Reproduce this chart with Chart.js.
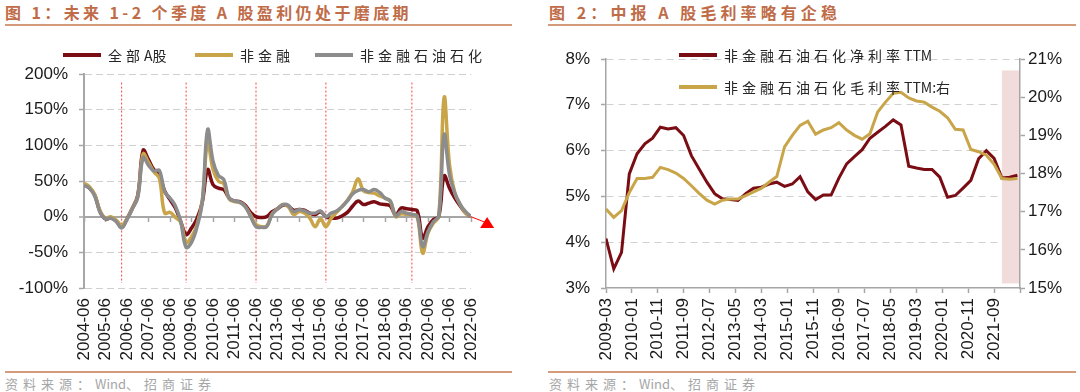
<!DOCTYPE html>
<html>
<head>
<meta charset="utf-8">
<script src="https://cdn.jsdelivr.net/npm/chart.js@4.4.0/dist/chart.umd.min.js"></script>
<style>
  body { margin: 0; background: #fff; }
  #page { position: relative; width: 1080px; height: 392px; overflow: hidden; font-family: "Noto Sans CJK SC", sans-serif; }
  .title { position: absolute; top: 2px; font-size: 16px; line-height: 20px; font-weight: bold; color: #c06c48; white-space: nowrap; }
  .rule { position: absolute; height: 2px; background: #d59a7c; }
  .box { position: absolute; top: 0; width: 540px; height: 372px; }
  .item { position: absolute; display: flex; align-items: center; height: 20px; font-size: 14px; color: #262626; letter-spacing: 4px; white-space: nowrap; }
  .swatch { display: inline-block; width: 38px; height: 4px; margin-right: 7px; }
  .src { position: absolute; top: 374px; font-size: 13px; line-height: 19px; color: #a6a6a6; letter-spacing: 5px; white-space: nowrap; }
  .lat { letter-spacing: 0; }
</style>
</head>
<body>
<div id="page">
  <div class="title" id="t1" style="left:5px">图 1：未来 1-2 个季度 A 股盈利仍处于磨底期</div>
  <div class="rule" style="left:5px; top:24px; width:507px"></div>
  <div class="title" id="t2" style="left:549px">图 2：中报 A 股毛利率略有企稳</div>
  <div class="rule" style="left:548px; top:24px; width:528px"></div>

  <div class="box" style="left:0"><canvas id="c1"></canvas></div>
  <div class="box" style="left:540px"><canvas id="c2"></canvas></div>

  <div class="rule" style="left:5px; top:371px; width:507px"></div>
  <div class="rule" style="left:548px; top:371px; width:528px"></div>
  <div class="src" style="left:5px">资料来源：Wind、招商证券</div>
  <div class="src" style="left:549px">资料来源：Wind、招商证券</div>
</div>

<script>
// --- 图1: quarterly YoY net profit growth (%) ---
const quarters = [
  '2004-06','2004-09','2004-12',
  '2005-03','2005-06','2005-09','2005-12','2006-03','2006-06','2006-09','2006-12',
  '2007-03','2007-06','2007-09','2007-12','2008-03','2008-06','2008-09','2008-12',
  '2009-03','2009-06','2009-09','2009-12','2010-03','2010-06','2010-09','2010-12',
  '2011-03','2011-06','2011-09','2011-12','2012-03','2012-06','2012-09','2012-12',
  '2013-03','2013-06','2013-09','2013-12','2014-03','2014-06','2014-09','2014-12',
  '2015-03','2015-06','2015-09','2015-12','2016-03','2016-06','2016-09','2016-12',
  '2017-03','2017-06','2017-09','2017-12','2018-03','2018-06','2018-09','2018-12',
  '2019-03','2019-06','2019-09','2019-12','2020-03','2020-06','2020-09','2020-12',
  '2021-03','2021-06','2021-09','2021-12','2022-03','2022-06'
];
const allA = [
  45, 40, 30, 7, -3, -2, -6, -14, -3, 12,
  30, 93, 80, 66, 60, 36, 24, 12, -7, -25,
  -16, -3, 20, 66, 45, 40, 38, 26, 22, 21,
  16, 6, 0, -1, 0, 7, 11, 16, 15, 9,
  10, 9, 5, 3, 7, 0, -2, -2, 1, 6,
  15, 22, 17, 19, 21, 18, 17, 15, 2, 12,
  11, 10, 8, -30, -14, -4, 0, 57, 40, 26,
  15, 5, 0
];
const nonFin = [
  47, 42, 31, 8, -2, 0, -5, -12, -3, 12,
  28, 88, 76, 63, 54, 5, 6, -1, -8, -36,
  -28, -12, 22, 104, 66, 50, 46, 25, 21, 20,
  14, 2, -11, -14, -13, 4, 11, 17, 14, 3,
  7, 5, -2, -14, -3, -14, -2, 6, 14, 23,
  35, 53, 36, 34, 33, 29, 26, 21, 0, 4,
  3, 3, -1, -51, -23, -9, 0, 167, 73, 33,
  17, 5, 0
];
const nonFinExOil = [
  44, 40, 29, 6, -3, -2, -7, -16, -4, 11,
  27, 83, 72, 64, 65, 35, 26, 15, -7, -43,
  -36, -15, 20, 122, 78, 58, 52, 26, 22, 20,
  14, 0, -14, -15, -14, 3, 11, 17, 16, 7,
  10, 8, 5, 5, 8, 0, 5, 8, 14, 22,
  32, 37, 38, 35, 38, 34, 26, 22, 1, 7,
  5, 3, 1, -42, -21, -7, 1, 115, 59, 33,
  17, 7, 0
];
const turnQuarters = ['2006-03', '2009-03', '2012-06', '2015-09', '2019-09'];
const forecastQuarter = '2023-03';
const forecastValue = -9;

// --- 图2: TTM margins (%) ---
const quarters2 = [
  '2009-03','2009-06','2009-09','2009-12','2010-03','2010-06','2010-09','2010-12',
  '2011-03','2011-06','2011-09','2011-12','2012-03','2012-06','2012-09','2012-12',
  '2013-03','2013-06','2013-09','2013-12','2014-03','2014-06','2014-09','2014-12',
  '2015-03','2015-06','2015-09','2015-12','2016-03','2016-06','2016-09','2016-12',
  '2017-03','2017-06','2017-09','2017-12','2018-03','2018-06','2018-09','2018-12',
  '2019-03','2019-06','2019-09','2019-12','2020-03','2020-06','2020-09','2020-12',
  '2021-03','2021-06','2021-09','2021-12','2022-03','2022-06'
];
const netMargin = [
  4.08, 3.42, 3.78, 5.49, 5.93, 6.15, 6.27, 6.51, 6.47, 6.50,
  6.33, 5.89, 5.60, 5.31, 5.06, 4.95, 4.93, 4.91, 5.06, 5.18,
  5.20, 5.27, 5.31, 5.22, 5.27, 5.43, 5.10, 4.93, 5.03, 5.03,
  5.40, 5.71, 5.87, 6.02, 6.27, 6.40, 6.53, 6.67, 6.56, 5.66,
  5.62, 5.59, 5.59, 5.42, 4.98, 5.02, 5.18, 5.35, 5.82, 6.00,
  5.83, 5.40, 5.42, 5.46
];
const grossMargin = [
  17.07, 16.85, 17.03, 17.50, 17.87, 17.87, 17.90, 18.16, 18.10, 18.01,
  17.87, 17.68, 17.48, 17.30, 17.20, 17.30, 17.33, 17.33, 17.42, 17.52,
  17.61, 17.77, 17.92, 18.70, 19.00, 19.26, 19.37, 19.03, 19.14, 19.20,
  19.33, 19.14, 19.00, 18.90, 19.04, 19.61, 19.87, 20.10, 20.13, 19.98,
  19.90, 19.87, 19.74, 19.63, 19.46, 19.16, 19.14, 18.63, 18.57, 18.48,
  18.24, 17.87, 17.85, 17.87
];
const xTicks2 = ['2009-03','2010-01','2010-11','2011-09','2012-07','2013-05','2014-03','2015-01',
  '2015-11','2016-09','2017-07','2018-05','2019-03','2020-01','2020-11','2021-09'];
const shadePeriod = ['2021-12', '2022-07'];

// --- styles ---
const MAROON = '#7a0c14';
const GOLD = '#c9a54a';
const GREY = '#8c8c8c';
const AXIS = '#a6a6a6';
const GRID = '#d0d0d0';
const TEXT = '#1a1a1a';
const tickFont = { family: '"Liberation Sans", Arial, sans-serif', size: 17 };

function qIndex(label) {
  const [y, m] = label.split('-').map(Number);
  return (y - 2004) * 4 + (m - 6) / 3;
}
function mIndex(label) {
  const [y, m] = label.split('-').map(Number);
  return (y - 2009) * 12 + (m - 3);
}
function points(labels, values, idx) {
  return values.map((v, i) => ({ x: idx(labels[i]), y: v }));
}

// wide spacing only for the CJK characters, latin runs stay tight
function latinTight(text) {
  return text.replace(/[\x21-\x7e]+/g, m => `<span class="lat">${m}</span>`);
}
// stretch a title to the width it has in the report
function fitWidth(el, target) {
  el.style.letterSpacing = '0px';
  const w = el.getBoundingClientRect().width;
  const n = [...el.textContent].length;
  el.style.letterSpacing = ((target - w) / n) + 'px';
}

function buildLegend(items, spots) {
  const page = document.getElementById('page');
  items.forEach((it, i) => {
    const el = document.createElement('div');
    el.className = 'item';
    el.style.left = spots[i][0] + 'px';
    el.style.top = spots[i][1] + 'px';
    el.innerHTML = `<span class="swatch" style="background:${it.color}"></span><span>${latinTight(it.label)}</span>`;
    page.appendChild(el);
  });
}

document.querySelectorAll('.src').forEach(el => { el.innerHTML = latinTight(el.textContent); });
fitWidth(document.getElementById('t1'), 407);
fitWidth(document.getElementById('t2'), 292);

Chart.defaults.animation = false;
Chart.defaults.plugins.legend.display = false;
Chart.defaults.plugins.tooltip.enabled = false;

// ---------- Chart 1 ----------
const series1 = [
  { label: '全部A股', values: allA, color: MAROON, order: 3 },
  { label: '非金融', values: nonFin, color: GOLD, order: 2 },
  { label: '非金融石油石化', values: nonFinExOil, color: GREY, order: 1 }
];
const lastQ = quarters[quarters.length - 1];

const forecastMarker = {
  id: 'forecastMarker',
  afterDatasetsDraw(chart) {
    const { ctx, scales: { x, y } } = chart;
    const px = x.getPixelForValue(qIndex(forecastQuarter));
    const py = y.getPixelForValue(forecastValue);
    ctx.save();
    ctx.fillStyle = '#ff0000';
    ctx.beginPath();
    ctx.moveTo(px, py - 6);
    ctx.lineTo(px + 7, py + 5);
    ctx.lineTo(px - 7, py + 5);
    ctx.closePath();
    ctx.fill();
    ctx.restore();
  }
};

new Chart(document.getElementById('c1'), {
  type: 'line',
  data: {
    datasets: [
      ...series1.map(s => ({
        label: s.label,
        data: points(quarters, s.values, qIndex),
        borderColor: s.color,
        borderWidth: 3.5,
        tension: 0.4,
        pointRadius: 0,
        order: s.order
      })),
      ...turnQuarters.map(q => ({
        data: [{ x: qIndex(q), y: 188 }, { x: qIndex(q), y: -93 }],
        borderColor: '#ff4040',
        borderWidth: 1,
        borderDash: [2, 2],
        pointRadius: 0,
        order: 10
      })),
      {
        data: [{ x: qIndex(lastQ), y: allA[allA.length - 1] }, { x: qIndex(forecastQuarter), y: forecastValue }],
        borderColor: '#ff0000',
        borderWidth: 1,
        pointRadius: 0,
        clip: false,
        order: 0
      }
    ]
  },
  options: {
    responsive: true,
    maintainAspectRatio: false,
    layout: { padding: { top: 74, right: 69, left: 0, bottom: 0 } },
    scales: {
      x: {
        type: 'linear', min: 0, max: quarters.length - 1,
        ticks: {
          stepSize: 4, autoSkip: false, minRotation: 90, maxRotation: 90,
          font: tickFont, color: TEXT, padding: 10,
          callback: v => quarters[v]
        },
        grid: { display: false, drawTicks: false },
        border: { display: false },
        afterFit: s => { s.height = 84; }
      },
      x0: {
        type: 'linear', axis: 'x', position: { y: 0 }, min: 0, max: quarters.length - 1,
        ticks: { stepSize: 4, display: false },
        grid: { drawOnChartArea: false, tickLength: 5, tickColor: AXIS, tickWidth: 1.5 },
        border: { display: false },
        afterFit: s => { s.height = 0; }
      },
      y: {
        min: -100, max: 200,
        ticks: { stepSize: 50, font: tickFont, color: TEXT, padding: 11, callback: v => v + '%' },
        grid: {
          color: c => (c.tick && c.tick.value === 0) ? AXIS : GRID,
          lineWidth: c => (c.tick && c.tick.value === 0) ? 2 : 1,
          tickLength: 5, tickColor: AXIS, tickWidth: 1.5
        },
        border: {
          color: AXIS, width: 2,
          dash: c => (c.type === 'tick' && c.tick.value !== 0) ? [7, 4] : []
        },
        afterFit: s => { s.width = 84; }
      }
    }
  },
  plugins: [forecastMarker]
});

buildLegend(series1, [[63, 45], [195, 45], [315, 45]]);

// ---------- Chart 2 ----------
const series2 = [
  { label: '非金融石油石化净利率TTM', values: netMargin, color: MAROON, axis: 'y', order: 2 },
  { label: '非金融石油石化毛利率TTM:右', values: grossMargin, color: GOLD, axis: 'y2', order: 1 }
];

const shadePlugin = {
  id: 'shade',
  beforeDatasetsDraw(chart) {
    const { ctx, scales: { x, y } } = chart;
    const x1 = x.getPixelForValue(mIndex(shadePeriod[0]));
    const x2 = x.getPixelForValue(mIndex(shadePeriod[1]));
    const y1 = y.getPixelForValue(7.75);
    const y2 = y.getPixelForValue(3.1);
    ctx.save();
    ctx.fillStyle = '#f2dcdb';
    ctx.fillRect(x1, y1, x2 - x1 - 1, y2 - y1);
    ctx.restore();
  }
};

new Chart(document.getElementById('c2'), {
  type: 'line',
  data: {
    datasets: series2.map(s => ({
      label: s.label,
      data: points(quarters2, s.values, mIndex),
      yAxisID: s.axis,
      borderColor: s.color,
      borderWidth: 3,
      tension: 0,
      pointRadius: 0,
      order: s.order
    }))
  },
  options: {
    responsive: true,
    maintainAspectRatio: false,
    layout: { padding: { top: 59, right: 0, left: 0, bottom: 0 } },
    scales: {
      x: {
        type: 'linear', min: 0, max: 160,
        ticks: {
          stepSize: 10, autoSkip: false, minRotation: 90, maxRotation: 90,
          font: tickFont, color: TEXT, padding: 5,
          callback: v => xTicks2.find(l => mIndex(l) === v) || ''
        },
        grid: { drawOnChartArea: false, tickLength: 5, tickColor: AXIS, tickWidth: 1.5 },
        border: { color: AXIS, width: 1.5 },
        afterFit: s => { s.height = 84; }
      },
      y: {
        position: 'left', min: 3, max: 8,
        ticks: { stepSize: 1, font: tickFont, color: TEXT, padding: 11, callback: v => v + '%' },
        grid: {
          color: c => (c.tick && c.tick.value === 3) ? 'rgba(0,0,0,0)' : GRID,
          tickLength: 5, tickColor: AXIS, tickWidth: 1.5
        },
        border: { color: AXIS, width: 1.5, dash: c => c.type === 'tick' ? [7, 5] : [] },
        afterFit: s => { s.width = 66; }
      },
      y2: {
        position: 'right', min: 15, max: 21,
        ticks: { stepSize: 1, font: tickFont, color: TEXT, padding: 3, callback: v => v + '%' },
        grid: { drawOnChartArea: false, tickLength: 5, tickColor: AXIS, tickWidth: 1.5 },
        border: { color: AXIS, width: 1.5 },
        afterFit: s => { s.width = 60; }
      }
    }
  },
  plugins: [shadePlugin]
});

buildLegend(series2, [[679, 45], [679, 77]]);
</script>
</body>
</html>
